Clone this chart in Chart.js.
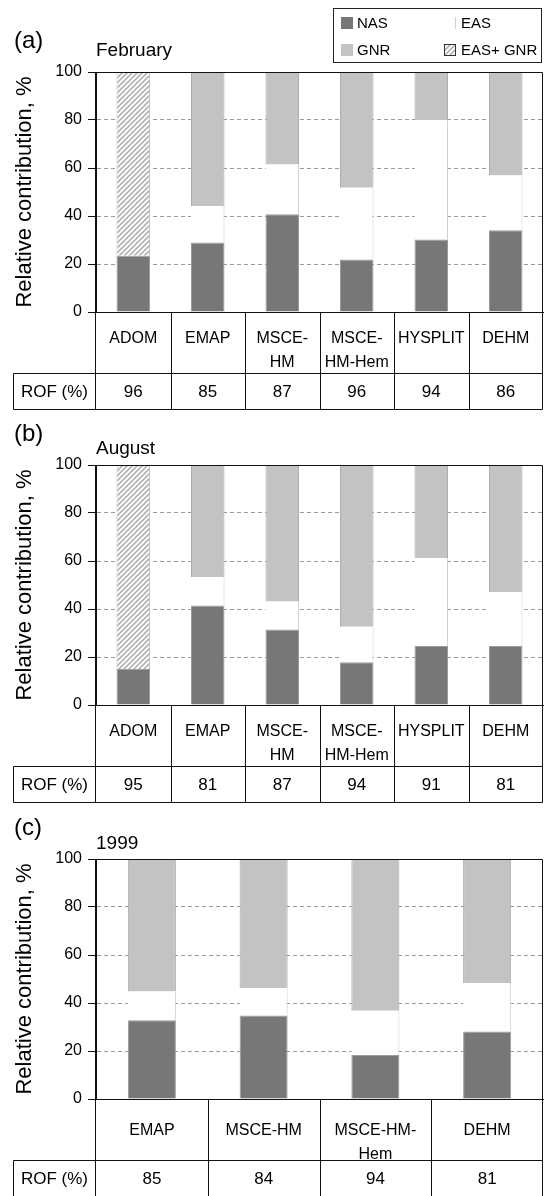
<!DOCTYPE html>
<html>
<head>
<meta charset="utf-8">
<script src="https://cdn.jsdelivr.net/npm/chart.js@4.4.0/dist/chart.umd.min.js"></script>
<style>
  html, body { margin: 0; padding: 0; background: #fff; }
  body { width: 545px; height: 1196px; position: relative; overflow: hidden; }
  canvas { position: absolute; left: 0; display: block; }
</style>
</head>
<body>
<canvas id="chartA" width="545" height="412" style="top:0px"></canvas>
<canvas id="chartB" width="545" height="412" style="top:393px"></canvas>
<canvas id="chartC" width="545" height="409" style="top:787px"></canvas>
<script>
// models (table header) and y ticks
const modelsAB = ["ADOM", "EMAP", ["MSCE-", "HM"], ["MSCE-", "HM-Hem"], "HYSPLIT", "DEHM"];
const modelsC = ["EMAP", "MSCE-HM", ["MSCE-HM-", "Hem"], "DEHM"];
const yTicks = [0, 20, 40, 60, 80, 100];

// (a) February
const febNAS = [23.4, 29.0, 40.7, 21.9, 30.2, 34.1];
const febEAS = [null, 15.2, 20.8, 29.9, 49.7, 22.8];
const febGNR = [null, 55.8, 38.5, 48.2, 20.1, 43.1];
const febEASGNR = [76.6, null, null, null, null, null];
const febROF = [96, 85, 87, 96, 94, 86];

// (b) August
const augNAS = [15.0, 41.5, 31.5, 17.8, 24.6, 24.6];
const augEAS = [null, 11.8, 11.6, 14.8, 36.5, 22.5];
const augGNR = [null, 46.7, 56.9, 67.4, 38.9, 52.9];
const augEASGNR = [85.0, null, null, null, null, null];
const augROF = [95, 81, 87, 94, 91, 81];

// (c) 1999
const yrNAS = [32.8, 34.8, 18.3, 28.1];
const yrEAS = [12.0, 11.5, 18.5, 20.2];
const yrGNR = [55.2, 53.7, 63.2, 51.7];
const yrROF = [85, 84, 94, 81];

const FONT = "'Liberation Sans', Arial, Helvetica, sans-serif";
Chart.defaults.font.family = FONT;
Chart.defaults.color = "#000";

const makeHatch = (ctx) => {
  const s = 5;
  const tile = document.createElement("canvas");
  tile.width = s;
  tile.height = s;
  const g = tile.getContext("2d");
  g.fillStyle = "#fff";
  g.fillRect(0, 0, s, s);
  g.strokeStyle = "#b3b3b3";
  g.lineWidth = 1.7;
  g.beginPath();
  g.moveTo(-1, s + 1); g.lineTo(s + 1, -1);
  g.moveTo(-1, 1); g.lineTo(1, -1);
  g.moveTo(s - 1, s + 1); g.lineTo(s + 1, s - 1);
  g.stroke();
  return ctx.createPattern(tile, "repeat");
};

const panelPlugin = {
  id: "panelFrame",
  afterDraw(chart, _args, opts) {
    const { ctx, chartArea: area, scales: { x } } = chart;
    const n = chart.data.labels.length;
    const px = (v) => Math.round(v) + 0.5;
    const L = px(area.left - 1);
    const R = px(area.right - 1);
    const T = px(area.top);
    const B = px(area.bottom);
    const headBottom = px(area.bottom + 61);
    const tableBottom = px(area.bottom + 97);
    const rofLeft = px(13);

    ctx.save();
    ctx.strokeStyle = "#111";
    ctx.lineWidth = 1;
    ctx.setLineDash([]);
    ctx.beginPath();
    ctx.moveTo(L, T); ctx.lineTo(R, T); ctx.lineTo(R, tableBottom);
    ctx.moveTo(L, T); ctx.lineTo(L, tableBottom);
    ctx.moveTo(L, B); ctx.lineTo(R, B);
    for (let i = 1; i < n; i += 1) {
      const xx = px((x.getPixelForValue(i - 1) + x.getPixelForValue(i)) / 2);
      ctx.moveTo(xx, B); ctx.lineTo(xx, tableBottom);
    }
    ctx.moveTo(rofLeft, headBottom); ctx.lineTo(R, headBottom);
    ctx.moveTo(rofLeft, headBottom); ctx.lineTo(rofLeft, tableBottom);
    ctx.moveTo(rofLeft, tableBottom); ctx.lineTo(R, tableBottom);
    ctx.stroke();

    // ROF row
    const rowY = (headBottom + tableBottom) / 2 + 1;
    ctx.fillStyle = "#000";
    ctx.textAlign = "center";
    ctx.textBaseline = "middle";
    ctx.font = `17px ${FONT}`;
    ctx.fillText("ROF (%)", (rofLeft + L) / 2, rowY);
    opts.rof.forEach((v, i) => ctx.fillText(String(v), x.getPixelForValue(i), rowY));

    // panel letter and title
    ctx.textAlign = "left";
    ctx.font = `24px ${FONT}`;
    ctx.fillText(opts.letter, 14, area.top - 31);
    ctx.font = `19px ${FONT}`;
    ctx.fillText(opts.title, area.left, area.top - opts.titleGap);

    if (opts.legend) {
      ctx.strokeStyle = "#222";
      ctx.strokeRect(333.5, 8.5, 208, 54);
      ctx.font = `15px ${FONT}`;
      chart.data.datasets.forEach((ds, i) => {
        const col = i % 2;
        const row = Math.floor(i / 2);
        const sx = col ? 444 : 341;
        const cy = row ? 50 : 23;
        if (ds.label === "EAS") {
          ctx.strokeStyle = "#cfcfcf";
          ctx.beginPath();
          ctx.moveTo(sx + 11.5, cy - 6); ctx.lineTo(sx + 11.5, cy + 6);
          ctx.stroke();
        } else {
          ctx.fillStyle = ds.backgroundColor;
          ctx.fillRect(sx, cy - 6, 12, 12);
          if (ds.label !== "NAS" && ds.label !== "GNR") {
            ctx.strokeStyle = "#333";
            ctx.strokeRect(sx + 0.5, cy - 5.5, 11, 11);
          }
        }
        ctx.fillStyle = "#000";
        ctx.fillText(ds.label, sx + (col ? 17 : 16), cy + 1);
      });
    }
    ctx.restore();
  },
};

const buildPanel = (id, labels, nas, eas, gnr, easgnr, panel) => {
  const canvas = document.getElementById(id);
  const ctx = canvas.getContext("2d");
  const hatch = makeHatch(ctx);
  const datasets = [
    { label: "NAS", data: nas, backgroundColor: "#777777", borderColor: "#9c9c9c", borderWidth: 1 },
    { label: "EAS", data: eas, backgroundColor: "#ffffff", borderColor: "#d0d0d0", borderWidth: { top: 0, right: 1, bottom: 0, left: 0 } },
    { label: "GNR", data: gnr, backgroundColor: "#c3c3c3", borderColor: "#acacac", borderWidth: 1 },
  ];
  if (easgnr) {
    datasets.push({ label: "EAS+ GNR", data: easgnr, backgroundColor: hatch, borderColor: "#c4c4c4", borderWidth: 1 });
  } else {
    datasets.push({ label: "EAS+ GNR", data: labels.map(() => null), backgroundColor: hatch });
  }
  datasets.forEach((d) => {
    d.stack = "s";
    d.barPercentage = panel.barPct;
    d.categoryPercentage = 1;
  });

  return new Chart(ctx, {
    type: "bar",
    data: { labels, datasets },
    options: {
      responsive: false,
      animation: false,
      events: [],
      layout: { padding: { top: 72, right: 2, bottom: canvas.height - 72 - 240 - 97, left: 0 } },
      plugins: {
        legend: { display: false },
        tooltip: { enabled: false },
        panelFrame: panel,
      },
      scales: {
        x: {
          stacked: true,
          grid: { display: false, drawTicks: false },
          border: { display: true, color: "#111", width: 1 },
          ticks: {
            autoSkip: false,
            maxRotation: 0,
            padding: panel.labelPad,
            font: { size: 16, lineHeight: 1.5 },
            color: "#000",
          },
          afterFit: (s) => { s.height = 97; },
        },
        y: {
          stacked: true,
          min: 0,
          max: 100,
          afterBuildTicks: (s) => { s.ticks = yTicks.map((v) => ({ value: v })); },
          grid: {
            color: "#9a9a9a",
            lineWidth: 1,
            tickLength: 8,
            tickColor: "#111",
            tickWidth: 1,
            tickBorderDash: [],
          },
          border: { display: true, color: "#111", width: 1, dash: [4, 3] },
          ticks: { padding: 6, font: { size: 16 }, color: "#000" },
          title: {
            display: true,
            text: "Relative contribution, %",
            font: { size: 22 },
            color: "#000",
            padding: { top: 12, bottom: 0 },
          },
          afterFit: (s) => { s.width = 96; },
        },
      },
    },
    plugins: [panelPlugin],
  });
};

buildPanel("chartA", modelsAB, febNAS, febEAS, febGNR, febEASGNR,
  { letter: "(a)", title: "February", titleGap: 21, rof: febROF, legend: true, barPct: 0.45, labelPad: 14.5 });
buildPanel("chartB", modelsAB, augNAS, augEAS, augGNR, augEASGNR,
  { letter: "(b)", title: "August", titleGap: 16, rof: augROF, legend: false, barPct: 0.45, labelPad: 14.5 });
buildPanel("chartC", modelsC, yrNAS, yrEAS, yrGNR, null,
  { letter: "(c)", title: "1999", titleGap: 15, rof: yrROF, legend: false, barPct: 0.43, labelPad: 19.5 });
</script>
</body>
</html>
